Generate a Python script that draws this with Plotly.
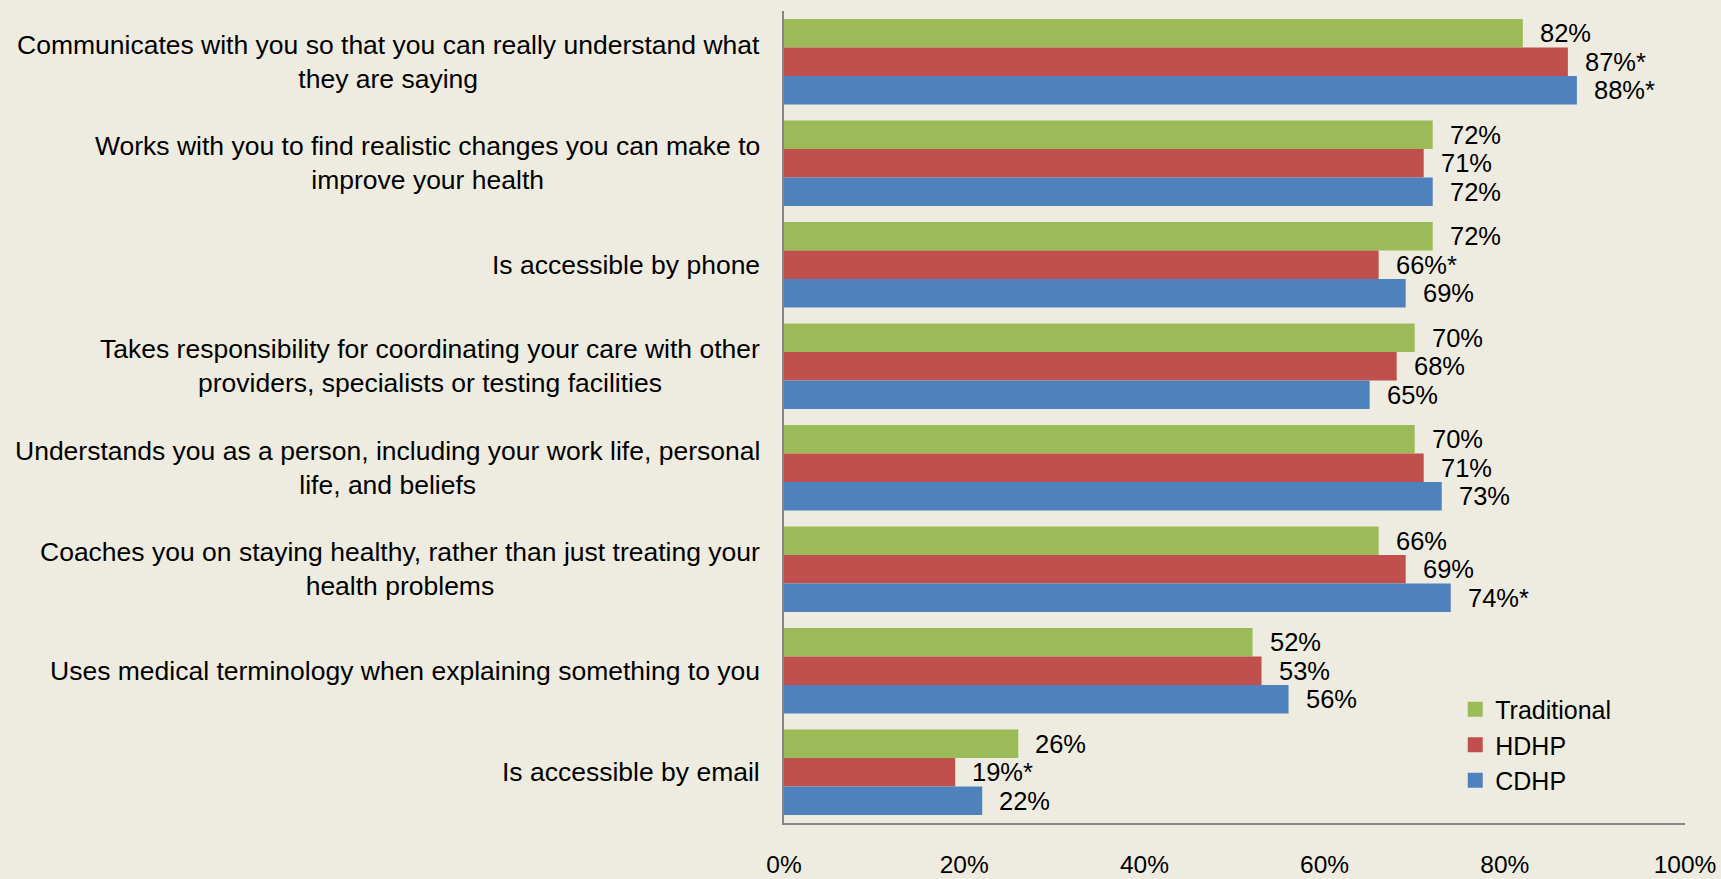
import plotly.graph_objects as go

categories = [
    "Communicates with you so that you can really understand what<br>they are saying",
    "Works with you to find realistic changes you can make to<br>improve your health",
    "Is accessible by phone",
    "Takes responsibility for coordinating your care with other<br>providers, specialists or testing facilities",
    "Understands you as a person, including your work life, personal<br>life, and beliefs",
    "Coaches you on staying healthy, rather than just treating your<br>health problems",
    "Uses medical terminology when explaining something to you",
    "Is accessible by email",
]
series_names = ["Traditional", "HDHP", "CDHP"]
traditional = [82, 72, 72, 70, 70, 66, 52, 26]
hdhp = [87, 71, 66, 68, 71, 69, 53, 19]
cdhp = [88, 72, 69, 65, 73, 74, 56, 22]
traditional_sig = ["", "", "", "", "", "", "", ""]
hdhp_sig = ["*", "", "*", "", "", "", "", "*"]
cdhp_sig = ["*", "", "", "", "", "*", "", ""]
x_ticks = [0, 20, 40, 60, 80, 100]
x_tick_labels = ["0%", "20%", "40%", "60%", "80%", "100%"]

colors = ["#9BBB59", "#C0504D", "#4F81BD"]
FONT = "Liberation Sans, Arial, sans-serif"
W, H = 1721, 879
ML, MR, MT, MB = 784, 36, 11, 56

cat_ids = list(range(len(categories)))

fig = go.Figure()
all_vals = [traditional, hdhp, cdhp]
all_sig = [traditional_sig, hdhp_sig, cdhp_sig]
for name, vals, col in zip(series_names, all_vals, colors):
    fig.add_trace(go.Bar(
        name=name, x=vals, y=cat_ids, orientation="h",
        marker=dict(color=col, line=dict(width=0)),
        hoverinfo="x+name", legendgroup=name, showlegend=False,
    ))
# legend entries with larger square swatches
for name, col in zip(series_names, colors):
    fig.add_trace(go.Scatter(
        name=name, x=[None], y=[None], mode="markers",
        marker=dict(symbol="square", size=15, color=col),
        legendgroup=name, showlegend=True, hoverinfo="skip",
    ))

# data labels positioned at bar ends through axis coordinates
annotations = []
n = len(series_names)
bargap = 0.16
bw = (1 - bargap) / n
for si, (vals, sig) in enumerate(zip(all_vals, all_sig)):
    for ci, (v, s) in enumerate(zip(vals, sig)):
        yoff = -(1 - bargap) / 2 + bw * (si + 0.5)
        annotations.append(dict(
            x=v, y=ci + yoff, xref="x", yref="y",
            text=f"{v}%{s}", showarrow=False, xanchor="left", yanchor="middle",
            xshift=15, font=dict(family=FONT, size=25.5, color="#000000"),
        ))

# category labels (centered multi-line, right-aligned block)
for ci, c in enumerate(categories):
    annotations.append(dict(
        x=0, y=ci, xref="paper", yref="y", text=c, showarrow=False,
        xanchor="right", yanchor="middle", align="center", xshift=-22,
        font=dict(family=FONT, size=26.5, color="#000000"),
    ))

fig.update_layout(
    width=W, height=H,
    margin=dict(l=ML, r=MR, t=MT, b=MB),
    paper_bgcolor="#EEECE1", plot_bgcolor="#EEECE1",
    barmode="group", bargap=bargap, bargroupgap=0,
    font=dict(family=FONT, size=24, color="#000000"),
    showlegend=True,
    legend=dict(
        x=0.745, y=0.168, xanchor="left", yanchor="top",
        bgcolor="rgba(0,0,0,0)", font=dict(family=FONT, size=25, color="#000000"),
        itemsizing="trace", tracegroupgap=0, itemwidth=30,
    ),
    xaxis=dict(
        range=[0, 100], tickvals=x_ticks, ticktext=x_tick_labels,
        showgrid=False, zeroline=False, showline=True, linecolor="#868686", linewidth=2,
        ticks="", ticklabelstandoff=19, automargin=False,
        tickfont=dict(family=FONT, size=24.5, color="#000000"),
    ),
    yaxis=dict(
        range=[len(categories) - 0.5, -0.5], type="linear",
        showticklabels=False, showgrid=False, zeroline=False,
        showline=True, linecolor="#868686", linewidth=2, ticks="", automargin=False,
    ),
    annotations=annotations,
)

fig.write_html("out.html")
